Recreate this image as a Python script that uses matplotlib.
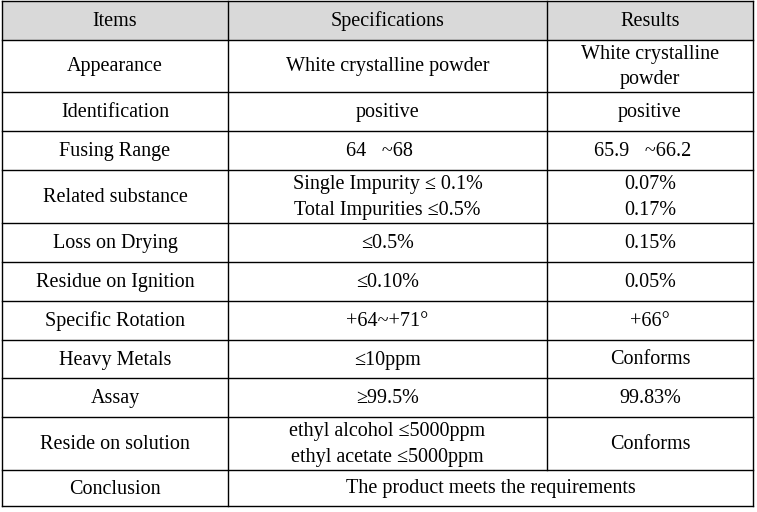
import matplotlib
matplotlib.use("Agg")
import matplotlib.pyplot as plt

headers = ["Items", "Specifications", "Results"]
items = ["Appearance", "Identification", "Fusing Range", "Related substance",
         "Loss on Drying", "Residue on Ignition", "Specific Rotation",
         "Heavy Metals", "Assay", "Reside on solution", "Conclusion"]
specs = ["White crystalline powder", "positive", "64℃~68℃",
         "Single Impurity ≤ 0.1%\nTotal Impurities ≤0.5%", "≤0.5%", "≤0.10%",
         "+64~+71°", "≤10ppm", "≥99.5%",
         "ethyl alcohol ≤5000ppm\nethyl acetate ≤5000ppm",
         "The product meets the requirements"]
results = ["White crystalline\npowder", "positive", "65.9℃~66.2℃",
           "0.07%\n0.17%", "0.15%", "0.05%", "+66°", "Conforms", "99.83%",
           "Conforms", None]

W, H = 757, 512
fig = plt.figure(figsize=(W/100, H/100), dpi=100)
ax = fig.add_axes([0, 0, 1, 1])
ax.set_xlim(0, W); ax.set_ylim(H, 0); ax.axis("off")

cols = [2, 228, 547, 753]
rows = [1, 40, 92, 131, 170, 223, 262, 301, 340, 378, 417, 470, 506]
font = dict(family=["Liberation Serif", "Noto Sans CJK SC"], fontsize=14.5,
            color="black", ha="center", va="center", linespacing=1.45)

ax.add_patch(plt.Rectangle((cols[0], rows[0]), cols[3]-cols[0], rows[1]-rows[0],
                           facecolor="#d9d9d9", edgecolor="none"))
for i, h in enumerate(headers):
    ax.text((cols[i]+cols[i+1])/2, (rows[0]+rows[1])/2 + 1, h, **font)

for r, (it, sp, rs) in enumerate(zip(items, specs, results)):
    y0, y1 = rows[r+1], rows[r+2]
    yc = (y0+y1)/2 + 1
    ax.text((cols[0]+cols[1])/2, yc, it, **font)
    if rs is None:
        ax.text((cols[1]+cols[3])/2, yc, sp, **font)
    else:
        ax.text((cols[1]+cols[2])/2, yc, sp, **font)
        ax.text((cols[2]+cols[3])/2, yc, rs, **font)

lw = 1.0
for y in rows:
    ax.plot([cols[0], cols[3]], [y, y], color="black", lw=lw)
for i, x in enumerate(cols):
    yend = rows[-1] if i != 2 else rows[-2]
    ax.plot([x, x], [rows[0], yend], color="black", lw=lw)

fig.savefig("out.png", dpi=100, facecolor="white")
